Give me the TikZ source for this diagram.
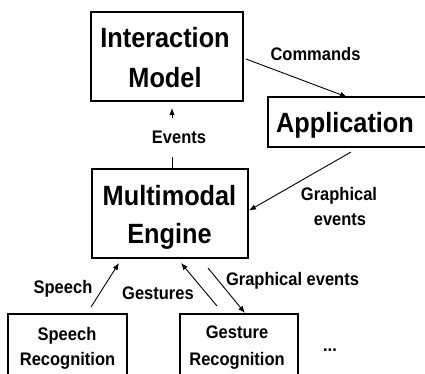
\documentclass[tikz,border=0pt]{standalone}
\usepackage{fontspec}
\setmainfont{Liberation Sans}
\usetikzlibrary{arrows.meta,calc}
\newcommand{\vstr}[1]{\scalebox{1}[1.1]{#1}}
\begin{document}
\begin{tikzpicture}[x=1pt,y=-1pt,
  box/.style={draw, line width=1.2pt, inner sep=0pt, outer sep=0pt},
  big/.style={font=\fontsize{25.3}{30}\selectfont\bfseries, anchor=base, inner sep=0pt},
  small/.style={font=\fontsize{16.5}{20}\selectfont\bfseries, anchor=base, inner sep=0pt},
  arr/.style={-{Latex[length=7pt,width=5.5pt]}, line width=0.9pt}]
\useasboundingbox (0,0) rectangle (425,374);
\clip (0,0) rectangle (425,374);
\fill[white] (0,0) rectangle (425,374);
% boxes
\node[box, minimum width=152pt, minimum height=89pt] (IM) at (167,56.5) {};
\node[box, minimum width=158pt, minimum height=50pt] (App) at (347,122) {};
\node[box, minimum width=156pt, minimum height=89pt] (ME) at (170,213.5) {};
\node[box, minimum width=119pt, minimum height=80pt] (SR) at (67.5,354) {};
\node[box, minimum width=118pt, minimum height=80pt] (GR) at (239,354) {};
% box texts
\node[big] (im1) at (165,48) {\vstr{Interaction}};
\node[big] (im2) at (165,88) {\vstr{Model}};
\node[big] (ap1) at (345,133) {\vstr{Application}};
\node[big] (me1) at (169.5,205) {\vstr{Multimodal}};
\node[big] (me2) at (169.5,243) {\vstr{Engine}};
\node[small] (sr1) at (67,340) {\vstr{Speech}};
\node[small] (sr2) at (67.5,365) {\vstr{Recognition}};
\node[small] (gr1) at (237,338) {\vstr{Gesture}};
\node[small] (gr2) at (237,365) {\vstr{Recognition}};
\node[small] (dots) at (330,351) {\vstr{...}};
% labels
\node[small] (lcmd) at (315.5,61) {\vstr{Commands}};
\node[small] (lev) at (179,144) {\vstr{Events}};
\node[small] (lge1) at (339,200) {\vstr{Graphical}};
\node[small] (lge2) at (340,225) {\vstr{events}};
\node[small] (lsp) at (63,293) {\vstr{Speech}};
\node[small] (lgs) at (158,299) {\vstr{Gestures}};
\node[small] (lge3) at (292.5,285) {\vstr{Graphical events}};
% connectors
\draw[arr] ($(IM.east)+(3,2.5)$) -- (App.north);
\coordinate (evA) at ($(IM.south)+(5,56)$);
\coordinate (evB) at ($(IM.south)+(5,17)$);
\coordinate (evtip) at ($(IM.south)+(5,7)$);
\draw[line width=0.9pt] ($(ME.north)+(2,0)$) -- (evA);
\draw[arr] (evB) -- (evtip);
\draw[arr] ($(App.south)+(4,5)$) -- ($(ME.east)+(1,-3)$);
\draw[arr] ($(SR.north)+(23.5,-7)$) -- ($(ME.south)+(-51,5)$);
\draw[arr] ($(GR.north)+(-22,-8)$) -- ($(ME.south)+(11,5)$);
\draw[arr] ($(ME.south)+(38,10)$) -- ($(GR.north)+(6,-1)$);
\end{tikzpicture}
\end{document}
